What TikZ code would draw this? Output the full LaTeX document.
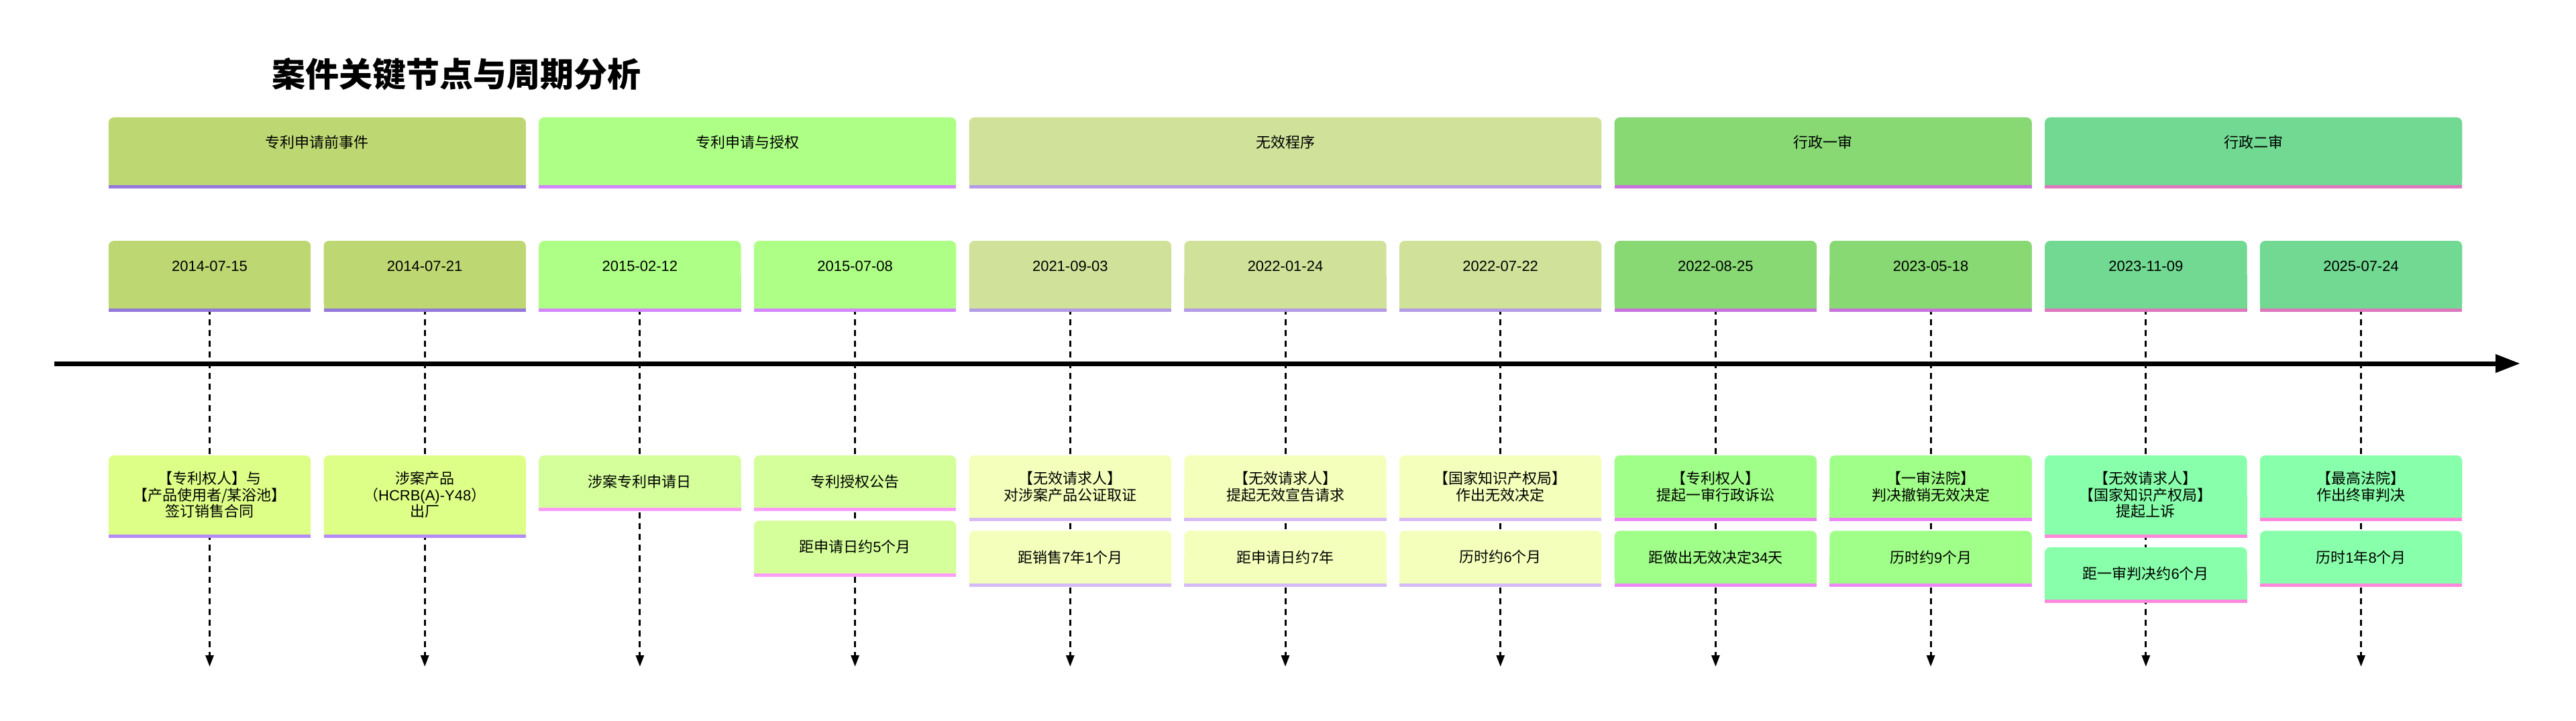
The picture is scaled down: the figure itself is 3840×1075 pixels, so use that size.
\documentclass[tikz,border=0pt]{standalone}
\usepackage{fontspec}
\setmainfont{Liberation Sans}
\newfontfamily\cjk{Noto Sans CJK SC}
\newfontfamily\latfont{Liberation Sans}
\newcommand\lat[1]{{\latfont #1}}
\usetikzlibrary{arrows.meta,calc}
\pgfdeclarelayer{lines}
\pgfdeclarelayer{background}
\pgfsetlayers{lines,background,main}
\definecolor{pA}{HTML}{BDD873}\definecolor{pAb}{HTML}{9478DA}
\definecolor{pB}{HTML}{AEFF86}\definecolor{pBb}{HTML}{D487FA}
\definecolor{pC}{HTML}{D0E29A}\definecolor{pCb}{HTML}{B49BE6}
\definecolor{pD}{HTML}{88D874}\definecolor{pDb}{HTML}{C873DB}
\definecolor{pE}{HTML}{71D991}\definecolor{pEb}{HTML}{DD78BC}
\definecolor{eA}{HTML}{DDFF88}\definecolor{eAb}{HTML}{B58BF8}
\definecolor{eB}{HTML}{D4FF9A}\definecolor{eBb}{HTML}{FB9CF6}
\definecolor{eC}{HTML}{F3FFBB}\definecolor{eCb}{HTML}{D7BBF9}
\definecolor{eD}{HTML}{A0FF88}\definecolor{eDb}{HTML}{EE88F6}
\definecolor{eE}{HTML}{88FFAA}\definecolor{eEb}{HTML}{FF88DD}
\newcommand\tlfill[3]{%
  \fill[#2, rounded corners=8pt] (#1.north west) rectangle (#1.south east);
  \fill[#2] (#1.west) rectangle (#1.south east);
  \fill[#3] (#1.south west) rectangle ($(#1.south east)+(0,5)$);
}
\begin{document}
\begin{tikzpicture}[x=1pt,y=-1pt,
  titletext/.style={inner sep=0, font=\cjk\bfseries\fontsize{50}{60}\selectfont},
  phasebox/.style={rectangle, inner sep=0, anchor=north, text height=45pt, text depth=56pt,
    font=\cjk\fontsize{22}{26}\selectfont},
  datebox/.style={rectangle, inner sep=0, anchor=north, minimum width=301pt,
    text height=45pt, text depth=56pt, font=\latfont\fontsize{22}{26}\selectfont},
  evbox/.style={rectangle, inner xsep=0, inner ysep=24pt, anchor=north, minimum width=301pt,
    minimum height=78pt, align=center, font=\cjk\fontsize{22}{24.5}\selectfont},
  dashln/.style={line width=3pt, dash pattern=on 9pt off 7pt,
    -{Triangle[length=17pt,width=12pt]}},
  axisln/.style={line width=7pt, -{Triangle[length=37pt,width=26pt]}}
]
\useasboundingbox (0,0) rectangle (3840,1075);

\node[titletext] (title) at (680,111) {案件关键节点与周期分析};

% phases
\node[phasebox, minimum width=621.7pt] (p1) at (472.85,175) {专利申请前事件};
\node[phasebox, minimum width=621.7pt] (p2) at (1114.25,175) {专利申请与授权};
\node[phasebox, minimum width=942.4pt] (p3) at (1916.0,175) {无效程序};
\node[phasebox, minimum width=621.7pt] (p4) at (2717.75,175) {行政一审};
\node[phasebox, minimum width=621.7pt] (p5) at (3359.15,175) {行政二审};

% dates
\node[datebox] (d0) at (312.5,359) {2014-07-15};
\node[datebox] (d1) at (633.2,359) {2014-07-21};
\node[datebox] (d2) at (953.9,359) {2015-02-12};
\node[datebox] (d3) at (1274.6,359) {2015-07-08};
\node[datebox] (d4) at (1595.3,359) {2021-09-03};
\node[datebox] (d5) at (1916.0,359) {2022-01-24};
\node[datebox] (d6) at (2236.7,359) {2022-07-22};
\node[datebox] (d7) at (2557.4,359) {2022-08-25};
\node[datebox] (d8) at (2878.1,359) {2023-05-18};
\node[datebox] (d9) at (3198.8,359) {2023-11-09};
\node[datebox] (d10) at (3519.5,359) {2025-07-24};

% events
\node[evbox] (e0) at (312.5,679) {【专利权人】与\\【产品使用者/某浴池】\\签订销售合同};
\node[evbox] (e1) at (633.2,679) {涉案产品\\（\lat{HCRB(A)-Y48}）\\出厂};
\node[evbox] (e2) at (953.9,679) {涉案专利申请日};
\node[evbox] (e3) at (1274.6,679) {专利授权公告};
\node[evbox] (f3) at ($(e3.south)+(0,19)$) {距申请日约\lat{5}个月};
\node[evbox] (e4) at (1595.3,679) {【无效请求人】\\对涉案产品公证取证};
\node[evbox] (f4) at ($(e4.south)+(0,19)$) {距销售\lat{7}年\lat{1}个月};
\node[evbox] (e5) at (1916.0,679) {【无效请求人】\\提起无效宣告请求};
\node[evbox] (f5) at ($(e5.south)+(0,19)$) {距申请日约\lat{7}年};
\node[evbox] (e6) at (2236.7,679) {【国家知识产权局】\\作出无效决定};
\node[evbox] (f6) at ($(e6.south)+(0,19)$) {历时约\lat{6}个月};
\node[evbox] (e7) at (2557.4,679) {【专利权人】\\提起一审行政诉讼};
\node[evbox] (f7) at ($(e7.south)+(0,19)$) {距做出无效决定\lat{34}天};
\node[evbox] (e8) at (2878.1,679) {【一审法院】\\判决撤销无效决定};
\node[evbox] (f8) at ($(e8.south)+(0,19)$) {历时约\lat{9}个月};
\node[evbox] (e9) at (3198.8,679) {【无效请求人】\\【国家知识产权局】\\提起上诉};
\node[evbox] (f9) at ($(e9.south)+(0,19)$) {距一审判决约\lat{6}个月};
\node[evbox] (e10) at (3519.5,679) {【最高法院】\\作出终审判决};
\node[evbox] (f10) at ($(e10.south)+(0,19)$) {历时\lat{1}年\lat{8}个月};

\begin{pgfonlayer}{background}
  \tlfill{p1}{pA}{pAb}
  \tlfill{p2}{pB}{pBb}
  \tlfill{p3}{pC}{pCb}
  \tlfill{p4}{pD}{pDb}
  \tlfill{p5}{pE}{pEb}
  \tlfill{d0}{pA}{pAb}\tlfill{d1}{pA}{pAb}
  \tlfill{d2}{pB}{pBb}\tlfill{d3}{pB}{pBb}
  \tlfill{d4}{pC}{pCb}\tlfill{d5}{pC}{pCb}\tlfill{d6}{pC}{pCb}
  \tlfill{d7}{pD}{pDb}\tlfill{d8}{pD}{pDb}
  \tlfill{d9}{pE}{pEb}\tlfill{d10}{pE}{pEb}
  \tlfill{e0}{eA}{eAb}\tlfill{e1}{eA}{eAb}
  \tlfill{e2}{eB}{eBb}\tlfill{e3}{eB}{eBb}\tlfill{f3}{eB}{eBb}
  \tlfill{e4}{eC}{eCb}\tlfill{f4}{eC}{eCb}
  \tlfill{e5}{eC}{eCb}\tlfill{f5}{eC}{eCb}
  \tlfill{e6}{eC}{eCb}\tlfill{f6}{eC}{eCb}
  \tlfill{e7}{eD}{eDb}\tlfill{f7}{eD}{eDb}
  \tlfill{e8}{eD}{eDb}\tlfill{f8}{eD}{eDb}
  \tlfill{e9}{eE}{eEb}\tlfill{f9}{eE}{eEb}
  \tlfill{e10}{eE}{eEb}\tlfill{f10}{eE}{eEb}
\end{pgfonlayer}

\begin{pgfonlayer}{lines}
  \foreach \i/\x in {0/312.5,1/633.2,2/953.9,3/1274.6,4/1595.3,5/1916.0,6/2236.7,7/2557.4,8/2878.1,9/3198.8,10/3519.5}{
    \coordinate (t\i) at (\x,994);
    \draw[dashln] (d\i.south) -- (t\i);
  }
  \coordinate (axs) at (81,542);
  \coordinate (axe) at (3757,542);
  \draw[axisln] (axs) -- (axe);
\end{pgfonlayer}
\end{tikzpicture}
\end{document}
